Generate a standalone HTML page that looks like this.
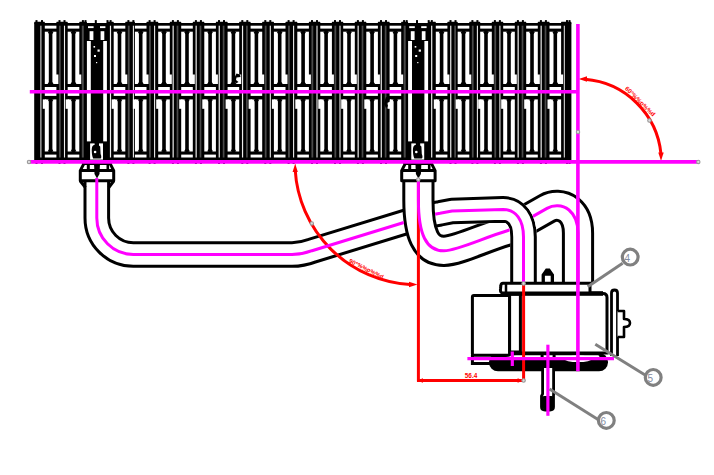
<!DOCTYPE html><html><head><meta charset="utf-8"><title>drawing</title><style>html,body{margin:0;padding:0;background:#fff;width:714px;height:475px;overflow:hidden}svg{display:block}</style></head><body><svg width="714" height="475" viewBox="0 0 714 475"><rect width="714" height="475" fill="#fff"/><rect x="34.2" y="23" width="537.2" height="137" fill="#000"/><rect x="34.2" y="21.8" width="10.65" height="2" rx="0.6" fill="#000"/><rect x="56.35" y="21.8" width="11.4" height="2" rx="0.6" fill="#000"/><rect x="79.25" y="21.8" width="7.65" height="2" rx="0.6" fill="#000"/><rect x="106.9" y="21.8" width="6.85" height="2" rx="0.6" fill="#000"/><rect x="125.25" y="21.8" width="9.7" height="2" rx="0.6" fill="#000"/><rect x="146.45" y="21.8" width="11.8" height="2" rx="0.6" fill="#000"/><rect x="169.75" y="21.8" width="11.5" height="2" rx="0.6" fill="#000"/><rect x="192.75" y="21.8" width="11.6" height="2" rx="0.6" fill="#000"/><rect x="215.85" y="21.8" width="11.8" height="2" rx="0.6" fill="#000"/><rect x="239.15" y="21.8" width="11.5" height="2" rx="0.6" fill="#000"/><rect x="262.15" y="21.8" width="11.8" height="2" rx="0.6" fill="#000"/><rect x="285.45" y="21.8" width="11.9" height="2" rx="0.6" fill="#000"/><rect x="308.85" y="21.8" width="11.5" height="2" rx="0.6" fill="#000"/><rect x="331.85" y="21.8" width="11.4" height="2" rx="0.6" fill="#000"/><rect x="354.75" y="21.8" width="11.6" height="2" rx="0.6" fill="#000"/><rect x="377.85" y="21.8" width="11.8" height="2" rx="0.6" fill="#000"/><rect x="401.15" y="21.8" width="6.95" height="2" rx="0.6" fill="#000"/><rect x="428.1" y="21.8" width="7.75" height="2" rx="0.6" fill="#000"/><rect x="447.35" y="21.8" width="10.4" height="2" rx="0.6" fill="#000"/><rect x="469.25" y="21.8" width="11" height="2" rx="0.6" fill="#000"/><rect x="491.75" y="21.8" width="11.5" height="2" rx="0.6" fill="#000"/><rect x="514.75" y="21.8" width="11.5" height="2" rx="0.6" fill="#000"/><rect x="537.75" y="21.8" width="11.8" height="2" rx="0.6" fill="#000"/><rect x="561.05" y="21.8" width="10.35" height="2" rx="0.6" fill="#000"/><rect x="44.8" y="25.7" width="11.6" height="2.9" fill="white"/><rect x="44.8" y="31.7" width="4" height="52.3" fill="white"/><rect x="52.4" y="31.7" width="4" height="52.3" fill="white"/><rect x="44.8" y="87" width="11.6" height="8.9" fill="white"/><rect x="44.8" y="99.4" width="4" height="52.1" fill="white"/><rect x="52.4" y="99.4" width="4" height="52.1" fill="white"/><rect x="44.8" y="154.6" width="11.6" height="2.9" fill="white"/><rect x="55.1" y="74.5" width="3.3" height="9.5" fill="white"/><rect x="42.8" y="99.4" width="3.3" height="9.4" fill="white"/><path d="M47.6,31.7 L53.6,31.7 L52.2,34 L49,34 Z" fill="#000"/><path d="M47.6,151.5 L53.6,151.5 L52.2,149.2 L49,149.2 Z" fill="#000"/><path d="M47.6,84 L53.6,84 L52.2,82 L49,82 Z" fill="#000"/><path d="M47.6,99.4 L53.6,99.4 L52.2,101.4 L49,101.4 Z" fill="#000"/><rect x="58.95" y="25.7" width="1.8" height="131.8" fill="#4a4a4a"/><rect x="63.95" y="25.7" width="1.1" height="131.8" fill="#ececec"/><rect x="67.7" y="25.7" width="11.6" height="2.9" fill="white"/><rect x="67.7" y="31.7" width="4" height="52.3" fill="white"/><rect x="75.3" y="31.7" width="4" height="52.3" fill="white"/><rect x="67.7" y="87" width="11.6" height="8.9" fill="white"/><rect x="67.7" y="99.4" width="4" height="52.1" fill="white"/><rect x="75.3" y="99.4" width="4" height="52.1" fill="white"/><rect x="67.7" y="154.6" width="11.6" height="2.9" fill="white"/><rect x="78" y="74.5" width="3.3" height="9.5" fill="white"/><rect x="65.7" y="99.4" width="3.3" height="9.4" fill="white"/><path d="M70.5,31.7 L76.5,31.7 L75.1,34 L71.9,34 Z" fill="#000"/><path d="M70.5,151.5 L76.5,151.5 L75.1,149.2 L71.9,149.2 Z" fill="#000"/><path d="M70.5,84 L76.5,84 L75.1,82 L71.9,82 Z" fill="#000"/><path d="M70.5,99.4 L76.5,99.4 L75.1,101.4 L71.9,101.4 Z" fill="#000"/><rect x="81.8" y="25.7" width="2" height="131.8" fill="#4a4a4a"/><rect x="86.9" y="41" width="3.9" height="100.4" fill="white"/><rect x="103.2" y="41" width="3.7" height="100.4" fill="white"/><rect x="88" y="26.2" width="5.6" height="1.9" fill="white"/><rect x="100" y="26.2" width="5.4" height="1.9" fill="white"/><rect x="89.6" y="31.2" width="3.8" height="8.8" fill="white"/><rect x="100.6" y="31.2" width="3.7" height="8.8" fill="white"/><rect x="90.1" y="143.4" width="12.9" height="16.2" fill="white"/><path d="M94,145 Q98.5,144 100.2,146.5 L100.6,154 Q102,157.5 100.5,158.6 L93.2,158.6 Q91.8,156 91.7,150 Q91.8,145.5 94,145 Z" fill="#000"/><rect x="94.6" y="141" width="4.4" height="5" fill="#000"/><circle cx="95.1" cy="152" r="1.3" fill="white"/><rect x="109.9" y="25.7" width="1.2" height="131.8" fill="#ececec"/><rect x="113.7" y="25.7" width="11.6" height="2.9" fill="white"/><rect x="113.7" y="31.7" width="4" height="52.3" fill="white"/><rect x="121.3" y="31.7" width="4" height="52.3" fill="white"/><rect x="113.7" y="87" width="11.6" height="8.9" fill="white"/><rect x="113.7" y="99.4" width="4" height="52.1" fill="white"/><rect x="121.3" y="99.4" width="4" height="52.1" fill="white"/><rect x="113.7" y="154.6" width="11.6" height="2.9" fill="white"/><rect x="124" y="74.5" width="3.3" height="9.5" fill="white"/><rect x="111.7" y="99.4" width="3.3" height="9.4" fill="white"/><path d="M116.5,31.7 L122.5,31.7 L121.1,34 L117.9,34 Z" fill="#000"/><path d="M116.5,151.5 L122.5,151.5 L121.1,149.2 L117.9,149.2 Z" fill="#000"/><path d="M116.5,84 L122.5,84 L121.1,82 L117.9,82 Z" fill="#000"/><path d="M116.5,99.4 L122.5,99.4 L121.1,101.4 L117.9,101.4 Z" fill="#000"/><rect x="127.85" y="25.7" width="1.8" height="131.8" fill="#4a4a4a"/><rect x="132.85" y="25.7" width="1.1" height="131.8" fill="#ececec"/><rect x="134.9" y="25.7" width="11.6" height="2.9" fill="white"/><rect x="134.9" y="31.7" width="4" height="52.3" fill="white"/><rect x="142.5" y="31.7" width="4" height="52.3" fill="white"/><rect x="134.9" y="87" width="11.6" height="8.9" fill="white"/><rect x="134.9" y="99.4" width="4" height="52.1" fill="white"/><rect x="142.5" y="99.4" width="4" height="52.1" fill="white"/><rect x="134.9" y="154.6" width="11.6" height="2.9" fill="white"/><rect x="145.2" y="74.5" width="3.3" height="9.5" fill="white"/><rect x="132.9" y="99.4" width="3.3" height="9.4" fill="white"/><path d="M137.7,31.7 L143.7,31.7 L142.3,34 L139.1,34 Z" fill="#000"/><path d="M137.7,151.5 L143.7,151.5 L142.3,149.2 L139.1,149.2 Z" fill="#000"/><path d="M137.7,84 L143.7,84 L142.3,82 L139.1,82 Z" fill="#000"/><path d="M137.7,99.4 L143.7,99.4 L142.3,101.4 L139.1,101.4 Z" fill="#000"/><rect x="149.05" y="25.7" width="1.8" height="131.8" fill="#4a4a4a"/><rect x="154.05" y="25.7" width="1.1" height="131.8" fill="#ececec"/><rect x="158.2" y="25.7" width="11.6" height="2.9" fill="white"/><rect x="158.2" y="31.7" width="4" height="52.3" fill="white"/><rect x="165.8" y="31.7" width="4" height="52.3" fill="white"/><rect x="158.2" y="87" width="11.6" height="8.9" fill="white"/><rect x="158.2" y="99.4" width="4" height="52.1" fill="white"/><rect x="165.8" y="99.4" width="4" height="52.1" fill="white"/><rect x="158.2" y="154.6" width="11.6" height="2.9" fill="white"/><rect x="168.5" y="74.5" width="3.3" height="9.5" fill="white"/><rect x="156.2" y="99.4" width="3.3" height="9.4" fill="white"/><path d="M161,31.7 L167,31.7 L165.6,34 L162.4,34 Z" fill="#000"/><path d="M161,151.5 L167,151.5 L165.6,149.2 L162.4,149.2 Z" fill="#000"/><path d="M161,84 L167,84 L165.6,82 L162.4,82 Z" fill="#000"/><path d="M161,99.4 L167,99.4 L165.6,101.4 L162.4,101.4 Z" fill="#000"/><rect x="172.55" y="25.7" width="1.2" height="131.8" fill="#ececec"/><rect x="176.65" y="25.7" width="1.7" height="131.8" fill="#4a4a4a"/><rect x="181.2" y="25.7" width="11.6" height="2.9" fill="white"/><rect x="181.2" y="31.7" width="4" height="52.3" fill="white"/><rect x="188.8" y="31.7" width="4" height="52.3" fill="white"/><rect x="181.2" y="87" width="11.6" height="8.9" fill="white"/><rect x="181.2" y="99.4" width="4" height="52.1" fill="white"/><rect x="188.8" y="99.4" width="4" height="52.1" fill="white"/><rect x="181.2" y="154.6" width="11.6" height="2.9" fill="white"/><rect x="191.5" y="74.5" width="3.3" height="9.5" fill="white"/><rect x="179.2" y="99.4" width="3.3" height="9.4" fill="white"/><path d="M184,31.7 L190,31.7 L188.6,34 L185.4,34 Z" fill="#000"/><path d="M184,151.5 L190,151.5 L188.6,149.2 L185.4,149.2 Z" fill="#000"/><path d="M184,84 L190,84 L188.6,82 L185.4,82 Z" fill="#000"/><path d="M184,99.4 L190,99.4 L188.6,101.4 L185.4,101.4 Z" fill="#000"/><rect x="195.55" y="25.7" width="1.2" height="131.8" fill="#ececec"/><rect x="199.65" y="25.7" width="1.7" height="131.8" fill="#4a4a4a"/><rect x="204.3" y="25.7" width="11.6" height="2.9" fill="white"/><rect x="204.3" y="31.7" width="4" height="52.3" fill="white"/><rect x="211.9" y="31.7" width="4" height="52.3" fill="white"/><rect x="204.3" y="87" width="11.6" height="8.9" fill="white"/><rect x="204.3" y="99.4" width="4" height="52.1" fill="white"/><rect x="211.9" y="99.4" width="4" height="52.1" fill="white"/><rect x="204.3" y="154.6" width="11.6" height="2.9" fill="white"/><rect x="214.6" y="74.5" width="3.3" height="9.5" fill="white"/><rect x="202.3" y="99.4" width="3.3" height="9.4" fill="white"/><path d="M207.1,31.7 L213.1,31.7 L211.7,34 L208.5,34 Z" fill="#000"/><path d="M207.1,151.5 L213.1,151.5 L211.7,149.2 L208.5,149.2 Z" fill="#000"/><path d="M207.1,84 L213.1,84 L211.7,82 L208.5,82 Z" fill="#000"/><path d="M207.1,99.4 L213.1,99.4 L211.7,101.4 L208.5,101.4 Z" fill="#000"/><rect x="218.65" y="25.7" width="1.2" height="131.8" fill="#ececec"/><rect x="222.75" y="25.7" width="1.7" height="131.8" fill="#4a4a4a"/><rect x="227.6" y="25.7" width="11.6" height="2.9" fill="white"/><rect x="227.6" y="31.7" width="4" height="52.3" fill="white"/><rect x="235.2" y="31.7" width="4" height="52.3" fill="white"/><rect x="227.6" y="87" width="11.6" height="8.9" fill="white"/><rect x="227.6" y="99.4" width="4" height="52.1" fill="white"/><rect x="235.2" y="99.4" width="4" height="52.1" fill="white"/><rect x="227.6" y="154.6" width="11.6" height="2.9" fill="white"/><rect x="237.9" y="74.5" width="3.3" height="9.5" fill="white"/><rect x="225.6" y="99.4" width="3.3" height="9.4" fill="white"/><path d="M230.4,31.7 L236.4,31.7 L235,34 L231.8,34 Z" fill="#000"/><path d="M230.4,151.5 L236.4,151.5 L235,149.2 L231.8,149.2 Z" fill="#000"/><path d="M230.4,84 L236.4,84 L235,82 L231.8,82 Z" fill="#000"/><path d="M230.4,99.4 L236.4,99.4 L235,101.4 L231.8,101.4 Z" fill="#000"/><rect x="241.95" y="25.7" width="1.2" height="131.8" fill="#ececec"/><rect x="246.05" y="25.7" width="1.7" height="131.8" fill="#4a4a4a"/><rect x="250.6" y="25.7" width="11.6" height="2.9" fill="white"/><rect x="250.6" y="31.7" width="4" height="52.3" fill="white"/><rect x="258.2" y="31.7" width="4" height="52.3" fill="white"/><rect x="250.6" y="87" width="11.6" height="8.9" fill="white"/><rect x="250.6" y="99.4" width="4" height="52.1" fill="white"/><rect x="258.2" y="99.4" width="4" height="52.1" fill="white"/><rect x="250.6" y="154.6" width="11.6" height="2.9" fill="white"/><rect x="260.9" y="74.5" width="3.3" height="9.5" fill="white"/><rect x="248.6" y="99.4" width="3.3" height="9.4" fill="white"/><path d="M253.4,31.7 L259.4,31.7 L258,34 L254.8,34 Z" fill="#000"/><path d="M253.4,151.5 L259.4,151.5 L258,149.2 L254.8,149.2 Z" fill="#000"/><path d="M253.4,84 L259.4,84 L258,82 L254.8,82 Z" fill="#000"/><path d="M253.4,99.4 L259.4,99.4 L258,101.4 L254.8,101.4 Z" fill="#000"/><rect x="264.75" y="25.7" width="1.8" height="131.8" fill="#4a4a4a"/><rect x="269.75" y="25.7" width="1.1" height="131.8" fill="#ececec"/><rect x="273.9" y="25.7" width="11.6" height="2.9" fill="white"/><rect x="273.9" y="31.7" width="4" height="52.3" fill="white"/><rect x="281.5" y="31.7" width="4" height="52.3" fill="white"/><rect x="273.9" y="87" width="11.6" height="8.9" fill="white"/><rect x="273.9" y="99.4" width="4" height="52.1" fill="white"/><rect x="281.5" y="99.4" width="4" height="52.1" fill="white"/><rect x="273.9" y="154.6" width="11.6" height="2.9" fill="white"/><rect x="284.2" y="74.5" width="3.3" height="9.5" fill="white"/><rect x="271.9" y="99.4" width="3.3" height="9.4" fill="white"/><path d="M276.7,31.7 L282.7,31.7 L281.3,34 L278.1,34 Z" fill="#000"/><path d="M276.7,151.5 L282.7,151.5 L281.3,149.2 L278.1,149.2 Z" fill="#000"/><path d="M276.7,84 L282.7,84 L281.3,82 L278.1,82 Z" fill="#000"/><path d="M276.7,99.4 L282.7,99.4 L281.3,101.4 L278.1,101.4 Z" fill="#000"/><rect x="288.05" y="25.7" width="1.8" height="131.8" fill="#4a4a4a"/><rect x="293.05" y="25.7" width="1.1" height="131.8" fill="#ececec"/><rect x="297.3" y="25.7" width="11.6" height="2.9" fill="white"/><rect x="297.3" y="31.7" width="4" height="52.3" fill="white"/><rect x="304.9" y="31.7" width="4" height="52.3" fill="white"/><rect x="297.3" y="87" width="11.6" height="8.9" fill="white"/><rect x="297.3" y="99.4" width="4" height="52.1" fill="white"/><rect x="304.9" y="99.4" width="4" height="52.1" fill="white"/><rect x="297.3" y="154.6" width="11.6" height="2.9" fill="white"/><rect x="307.6" y="74.5" width="3.3" height="9.5" fill="white"/><rect x="295.3" y="99.4" width="3.3" height="9.4" fill="white"/><path d="M300.1,31.7 L306.1,31.7 L304.7,34 L301.5,34 Z" fill="#000"/><path d="M300.1,151.5 L306.1,151.5 L304.7,149.2 L301.5,149.2 Z" fill="#000"/><path d="M300.1,84 L306.1,84 L304.7,82 L301.5,82 Z" fill="#000"/><path d="M300.1,99.4 L306.1,99.4 L304.7,101.4 L301.5,101.4 Z" fill="#000"/><rect x="311.45" y="25.7" width="1.8" height="131.8" fill="#4a4a4a"/><rect x="316.45" y="25.7" width="1.1" height="131.8" fill="#ececec"/><rect x="320.3" y="25.7" width="11.6" height="2.9" fill="white"/><rect x="320.3" y="31.7" width="4" height="52.3" fill="white"/><rect x="327.9" y="31.7" width="4" height="52.3" fill="white"/><rect x="320.3" y="87" width="11.6" height="8.9" fill="white"/><rect x="320.3" y="99.4" width="4" height="52.1" fill="white"/><rect x="327.9" y="99.4" width="4" height="52.1" fill="white"/><rect x="320.3" y="154.6" width="11.6" height="2.9" fill="white"/><rect x="330.6" y="74.5" width="3.3" height="9.5" fill="white"/><rect x="318.3" y="99.4" width="3.3" height="9.4" fill="white"/><path d="M323.1,31.7 L329.1,31.7 L327.7,34 L324.5,34 Z" fill="#000"/><path d="M323.1,151.5 L329.1,151.5 L327.7,149.2 L324.5,149.2 Z" fill="#000"/><path d="M323.1,84 L329.1,84 L327.7,82 L324.5,82 Z" fill="#000"/><path d="M323.1,99.4 L329.1,99.4 L327.7,101.4 L324.5,101.4 Z" fill="#000"/><rect x="334.45" y="25.7" width="1.8" height="131.8" fill="#4a4a4a"/><rect x="339.45" y="25.7" width="1.1" height="131.8" fill="#ececec"/><rect x="343.2" y="25.7" width="11.6" height="2.9" fill="white"/><rect x="343.2" y="31.7" width="4" height="52.3" fill="white"/><rect x="350.8" y="31.7" width="4" height="52.3" fill="white"/><rect x="343.2" y="87" width="11.6" height="8.9" fill="white"/><rect x="343.2" y="99.4" width="4" height="52.1" fill="white"/><rect x="350.8" y="99.4" width="4" height="52.1" fill="white"/><rect x="343.2" y="154.6" width="11.6" height="2.9" fill="white"/><rect x="353.5" y="74.5" width="3.3" height="9.5" fill="white"/><rect x="341.2" y="99.4" width="3.3" height="9.4" fill="white"/><path d="M346,31.7 L352,31.7 L350.6,34 L347.4,34 Z" fill="#000"/><path d="M346,151.5 L352,151.5 L350.6,149.2 L347.4,149.2 Z" fill="#000"/><path d="M346,84 L352,84 L350.6,82 L347.4,82 Z" fill="#000"/><path d="M346,99.4 L352,99.4 L350.6,101.4 L347.4,101.4 Z" fill="#000"/><rect x="357.55" y="25.7" width="1.2" height="131.8" fill="#ececec"/><rect x="361.65" y="25.7" width="1.7" height="131.8" fill="#4a4a4a"/><rect x="366.3" y="25.7" width="11.6" height="2.9" fill="white"/><rect x="366.3" y="31.7" width="4" height="52.3" fill="white"/><rect x="373.9" y="31.7" width="4" height="52.3" fill="white"/><rect x="366.3" y="87" width="11.6" height="8.9" fill="white"/><rect x="366.3" y="99.4" width="4" height="52.1" fill="white"/><rect x="373.9" y="99.4" width="4" height="52.1" fill="white"/><rect x="366.3" y="154.6" width="11.6" height="2.9" fill="white"/><rect x="376.6" y="74.5" width="3.3" height="9.5" fill="white"/><rect x="364.3" y="99.4" width="3.3" height="9.4" fill="white"/><path d="M369.1,31.7 L375.1,31.7 L373.7,34 L370.5,34 Z" fill="#000"/><path d="M369.1,151.5 L375.1,151.5 L373.7,149.2 L370.5,149.2 Z" fill="#000"/><path d="M369.1,84 L375.1,84 L373.7,82 L370.5,82 Z" fill="#000"/><path d="M369.1,99.4 L375.1,99.4 L373.7,101.4 L370.5,101.4 Z" fill="#000"/><rect x="380.65" y="25.7" width="1.2" height="131.8" fill="#ececec"/><rect x="384.75" y="25.7" width="1.7" height="131.8" fill="#4a4a4a"/><rect x="389.6" y="25.7" width="11.6" height="2.9" fill="white"/><rect x="389.6" y="31.7" width="4" height="52.3" fill="white"/><rect x="397.2" y="31.7" width="4" height="52.3" fill="white"/><rect x="389.6" y="87" width="11.6" height="8.9" fill="white"/><rect x="389.6" y="99.4" width="4" height="52.1" fill="white"/><rect x="397.2" y="99.4" width="4" height="52.1" fill="white"/><rect x="389.6" y="154.6" width="11.6" height="2.9" fill="white"/><rect x="399.9" y="74.5" width="3.3" height="9.5" fill="white"/><rect x="387.6" y="99.4" width="3.3" height="9.4" fill="white"/><path d="M392.4,31.7 L398.4,31.7 L397,34 L393.8,34 Z" fill="#000"/><path d="M392.4,151.5 L398.4,151.5 L397,149.2 L393.8,149.2 Z" fill="#000"/><path d="M392.4,84 L398.4,84 L397,82 L393.8,82 Z" fill="#000"/><path d="M392.4,99.4 L398.4,99.4 L397,101.4 L393.8,101.4 Z" fill="#000"/><rect x="403.7" y="25.7" width="2" height="131.8" fill="#4a4a4a"/><rect x="408.1" y="41" width="3.9" height="100.4" fill="white"/><rect x="424.4" y="41" width="3.7" height="100.4" fill="white"/><rect x="409.2" y="26.2" width="5.6" height="1.9" fill="white"/><rect x="421.2" y="26.2" width="5.4" height="1.9" fill="white"/><rect x="410.8" y="31.2" width="3.8" height="8.8" fill="white"/><rect x="421.8" y="31.2" width="3.7" height="8.8" fill="white"/><rect x="411.3" y="143.4" width="12.9" height="16.2" fill="white"/><path d="M415.2,145 Q419.7,144 421.4,146.5 L421.8,154 Q423.2,157.5 421.7,158.6 L414.4,158.6 Q413,156 412.9,150 Q413,145.5 415.2,145 Z" fill="#000"/><rect x="415.8" y="141" width="4.4" height="5" fill="#000"/><circle cx="416.3" cy="152" r="1.3" fill="white"/><rect x="431.1" y="25.7" width="1.2" height="131.8" fill="#ececec"/><rect x="435.8" y="25.7" width="11.6" height="2.9" fill="white"/><rect x="435.8" y="31.7" width="4" height="52.3" fill="white"/><rect x="443.4" y="31.7" width="4" height="52.3" fill="white"/><rect x="435.8" y="87" width="11.6" height="8.9" fill="white"/><rect x="435.8" y="99.4" width="4" height="52.1" fill="white"/><rect x="443.4" y="99.4" width="4" height="52.1" fill="white"/><rect x="435.8" y="154.6" width="11.6" height="2.9" fill="white"/><rect x="446.1" y="74.5" width="3.3" height="9.5" fill="white"/><rect x="433.8" y="99.4" width="3.3" height="9.4" fill="white"/><path d="M438.6,31.7 L444.6,31.7 L443.2,34 L440,34 Z" fill="#000"/><path d="M438.6,151.5 L444.6,151.5 L443.2,149.2 L440,149.2 Z" fill="#000"/><path d="M438.6,84 L444.6,84 L443.2,82 L440,82 Z" fill="#000"/><path d="M438.6,99.4 L444.6,99.4 L443.2,101.4 L440,101.4 Z" fill="#000"/><rect x="450.15" y="25.7" width="1.2" height="131.8" fill="#ececec"/><rect x="454.25" y="25.7" width="1.7" height="131.8" fill="#4a4a4a"/><rect x="457.7" y="25.7" width="11.6" height="2.9" fill="white"/><rect x="457.7" y="31.7" width="4" height="52.3" fill="white"/><rect x="465.3" y="31.7" width="4" height="52.3" fill="white"/><rect x="457.7" y="87" width="11.6" height="8.9" fill="white"/><rect x="457.7" y="99.4" width="4" height="52.1" fill="white"/><rect x="465.3" y="99.4" width="4" height="52.1" fill="white"/><rect x="457.7" y="154.6" width="11.6" height="2.9" fill="white"/><rect x="468" y="74.5" width="3.3" height="9.5" fill="white"/><rect x="455.7" y="99.4" width="3.3" height="9.4" fill="white"/><path d="M460.5,31.7 L466.5,31.7 L465.1,34 L461.9,34 Z" fill="#000"/><path d="M460.5,151.5 L466.5,151.5 L465.1,149.2 L461.9,149.2 Z" fill="#000"/><path d="M460.5,84 L466.5,84 L465.1,82 L461.9,82 Z" fill="#000"/><path d="M460.5,99.4 L466.5,99.4 L465.1,101.4 L461.9,101.4 Z" fill="#000"/><rect x="471.85" y="25.7" width="1.8" height="131.8" fill="#4a4a4a"/><rect x="476.85" y="25.7" width="1.1" height="131.8" fill="#ececec"/><rect x="480.2" y="25.7" width="11.6" height="2.9" fill="white"/><rect x="480.2" y="31.7" width="4" height="52.3" fill="white"/><rect x="487.8" y="31.7" width="4" height="52.3" fill="white"/><rect x="480.2" y="87" width="11.6" height="8.9" fill="white"/><rect x="480.2" y="99.4" width="4" height="52.1" fill="white"/><rect x="487.8" y="99.4" width="4" height="52.1" fill="white"/><rect x="480.2" y="154.6" width="11.6" height="2.9" fill="white"/><rect x="490.5" y="74.5" width="3.3" height="9.5" fill="white"/><rect x="478.2" y="99.4" width="3.3" height="9.4" fill="white"/><path d="M483,31.7 L489,31.7 L487.6,34 L484.4,34 Z" fill="#000"/><path d="M483,151.5 L489,151.5 L487.6,149.2 L484.4,149.2 Z" fill="#000"/><path d="M483,84 L489,84 L487.6,82 L484.4,82 Z" fill="#000"/><path d="M483,99.4 L489,99.4 L487.6,101.4 L484.4,101.4 Z" fill="#000"/><rect x="494.35" y="25.7" width="1.8" height="131.8" fill="#4a4a4a"/><rect x="499.35" y="25.7" width="1.1" height="131.8" fill="#ececec"/><rect x="503.2" y="25.7" width="11.6" height="2.9" fill="white"/><rect x="503.2" y="31.7" width="4" height="52.3" fill="white"/><rect x="510.8" y="31.7" width="4" height="52.3" fill="white"/><rect x="503.2" y="87" width="11.6" height="8.9" fill="white"/><rect x="503.2" y="99.4" width="4" height="52.1" fill="white"/><rect x="510.8" y="99.4" width="4" height="52.1" fill="white"/><rect x="503.2" y="154.6" width="11.6" height="2.9" fill="white"/><rect x="513.5" y="74.5" width="3.3" height="9.5" fill="white"/><rect x="501.2" y="99.4" width="3.3" height="9.4" fill="white"/><path d="M506,31.7 L512,31.7 L510.6,34 L507.4,34 Z" fill="#000"/><path d="M506,151.5 L512,151.5 L510.6,149.2 L507.4,149.2 Z" fill="#000"/><path d="M506,84 L512,84 L510.6,82 L507.4,82 Z" fill="#000"/><path d="M506,99.4 L512,99.4 L510.6,101.4 L507.4,101.4 Z" fill="#000"/><rect x="517.55" y="25.7" width="1.2" height="131.8" fill="#ececec"/><rect x="521.65" y="25.7" width="1.7" height="131.8" fill="#4a4a4a"/><rect x="526.2" y="25.7" width="11.6" height="2.9" fill="white"/><rect x="526.2" y="31.7" width="4" height="52.3" fill="white"/><rect x="533.8" y="31.7" width="4" height="52.3" fill="white"/><rect x="526.2" y="87" width="11.6" height="8.9" fill="white"/><rect x="526.2" y="99.4" width="4" height="52.1" fill="white"/><rect x="533.8" y="99.4" width="4" height="52.1" fill="white"/><rect x="526.2" y="154.6" width="11.6" height="2.9" fill="white"/><rect x="536.5" y="74.5" width="3.3" height="9.5" fill="white"/><rect x="524.2" y="99.4" width="3.3" height="9.4" fill="white"/><path d="M529,31.7 L535,31.7 L533.6,34 L530.4,34 Z" fill="#000"/><path d="M529,151.5 L535,151.5 L533.6,149.2 L530.4,149.2 Z" fill="#000"/><path d="M529,84 L535,84 L533.6,82 L530.4,82 Z" fill="#000"/><path d="M529,99.4 L535,99.4 L533.6,101.4 L530.4,101.4 Z" fill="#000"/><rect x="540.55" y="25.7" width="1.2" height="131.8" fill="#ececec"/><rect x="544.65" y="25.7" width="1.7" height="131.8" fill="#4a4a4a"/><rect x="549.5" y="25.7" width="11.6" height="2.9" fill="white"/><rect x="549.5" y="31.7" width="4" height="52.3" fill="white"/><rect x="557.1" y="31.7" width="4" height="52.3" fill="white"/><rect x="549.5" y="87" width="11.6" height="8.9" fill="white"/><rect x="549.5" y="99.4" width="4" height="52.1" fill="white"/><rect x="557.1" y="99.4" width="4" height="52.1" fill="white"/><rect x="549.5" y="154.6" width="11.6" height="2.9" fill="white"/><rect x="559.8" y="74.5" width="3.3" height="9.5" fill="white"/><rect x="547.5" y="99.4" width="3.3" height="9.4" fill="white"/><path d="M552.3,31.7 L558.3,31.7 L556.9,34 L553.7,34 Z" fill="#000"/><path d="M552.3,151.5 L558.3,151.5 L556.9,149.2 L553.7,149.2 Z" fill="#000"/><path d="M552.3,84 L558.3,84 L556.9,82 L553.7,82 Z" fill="#000"/><path d="M552.3,99.4 L558.3,99.4 L556.9,101.4 L553.7,101.4 Z" fill="#000"/><rect x="40.4" y="25.7" width="1" height="131.8" fill="#ececec"/><rect x="563.8" y="25.7" width="1" height="131.8" fill="#ececec"/><rect x="58.5" y="20.1" width="2" height="3" fill="#000"/><rect x="58.5" y="162" width="2" height="2" fill="#000"/><rect x="63.5" y="20.1" width="2" height="3" fill="#000"/><rect x="63.5" y="162" width="2" height="2" fill="#000"/><rect x="81.9" y="20.1" width="2" height="3" fill="#000"/><rect x="81.9" y="162" width="2" height="2" fill="#000"/><rect x="84.5" y="20.1" width="2" height="3" fill="#000"/><rect x="84.5" y="162" width="2" height="2" fill="#000"/><rect x="94.8" y="20.1" width="2" height="3" fill="#000"/><rect x="94.8" y="162" width="2" height="2" fill="#000"/><rect x="106.5" y="20.1" width="2" height="3" fill="#000"/><rect x="106.5" y="162" width="2" height="2" fill="#000"/><rect x="109.6" y="20.1" width="2" height="3" fill="#000"/><rect x="109.6" y="162" width="2" height="2" fill="#000"/><rect x="127.4" y="20.1" width="2" height="3" fill="#000"/><rect x="127.4" y="162" width="2" height="2" fill="#000"/><rect x="132.4" y="20.1" width="2" height="3" fill="#000"/><rect x="132.4" y="162" width="2" height="2" fill="#000"/><rect x="148.6" y="20.1" width="2" height="3" fill="#000"/><rect x="148.6" y="162" width="2" height="2" fill="#000"/><rect x="153.6" y="20.1" width="2" height="3" fill="#000"/><rect x="153.6" y="162" width="2" height="2" fill="#000"/><rect x="171.9" y="20.1" width="2" height="3" fill="#000"/><rect x="171.9" y="162" width="2" height="2" fill="#000"/><rect x="176.9" y="20.1" width="2" height="3" fill="#000"/><rect x="176.9" y="162" width="2" height="2" fill="#000"/><rect x="194.9" y="20.1" width="2" height="3" fill="#000"/><rect x="194.9" y="162" width="2" height="2" fill="#000"/><rect x="199.9" y="20.1" width="2" height="3" fill="#000"/><rect x="199.9" y="162" width="2" height="2" fill="#000"/><rect x="218" y="20.1" width="2" height="3" fill="#000"/><rect x="218" y="162" width="2" height="2" fill="#000"/><rect x="223" y="20.1" width="2" height="3" fill="#000"/><rect x="223" y="162" width="2" height="2" fill="#000"/><rect x="241.3" y="20.1" width="2" height="3" fill="#000"/><rect x="241.3" y="162" width="2" height="2" fill="#000"/><rect x="246.3" y="20.1" width="2" height="3" fill="#000"/><rect x="246.3" y="162" width="2" height="2" fill="#000"/><rect x="264.3" y="20.1" width="2" height="3" fill="#000"/><rect x="264.3" y="162" width="2" height="2" fill="#000"/><rect x="269.3" y="20.1" width="2" height="3" fill="#000"/><rect x="269.3" y="162" width="2" height="2" fill="#000"/><rect x="287.6" y="20.1" width="2" height="3" fill="#000"/><rect x="287.6" y="162" width="2" height="2" fill="#000"/><rect x="292.6" y="20.1" width="2" height="3" fill="#000"/><rect x="292.6" y="162" width="2" height="2" fill="#000"/><rect x="311" y="20.1" width="2" height="3" fill="#000"/><rect x="311" y="162" width="2" height="2" fill="#000"/><rect x="316" y="20.1" width="2" height="3" fill="#000"/><rect x="316" y="162" width="2" height="2" fill="#000"/><rect x="334" y="20.1" width="2" height="3" fill="#000"/><rect x="334" y="162" width="2" height="2" fill="#000"/><rect x="339" y="20.1" width="2" height="3" fill="#000"/><rect x="339" y="162" width="2" height="2" fill="#000"/><rect x="356.9" y="20.1" width="2" height="3" fill="#000"/><rect x="356.9" y="162" width="2" height="2" fill="#000"/><rect x="361.9" y="20.1" width="2" height="3" fill="#000"/><rect x="361.9" y="162" width="2" height="2" fill="#000"/><rect x="380" y="20.1" width="2" height="3" fill="#000"/><rect x="380" y="162" width="2" height="2" fill="#000"/><rect x="385" y="20.1" width="2" height="3" fill="#000"/><rect x="385" y="162" width="2" height="2" fill="#000"/><rect x="403.1" y="20.1" width="2" height="3" fill="#000"/><rect x="403.1" y="162" width="2" height="2" fill="#000"/><rect x="405.7" y="20.1" width="2" height="3" fill="#000"/><rect x="405.7" y="162" width="2" height="2" fill="#000"/><rect x="416" y="20.1" width="2" height="3" fill="#000"/><rect x="416" y="162" width="2" height="2" fill="#000"/><rect x="427.7" y="20.1" width="2" height="3" fill="#000"/><rect x="427.7" y="162" width="2" height="2" fill="#000"/><rect x="430.8" y="20.1" width="2" height="3" fill="#000"/><rect x="430.8" y="162" width="2" height="2" fill="#000"/><rect x="449.5" y="20.1" width="2" height="3" fill="#000"/><rect x="449.5" y="162" width="2" height="2" fill="#000"/><rect x="454.5" y="20.1" width="2" height="3" fill="#000"/><rect x="454.5" y="162" width="2" height="2" fill="#000"/><rect x="471.4" y="20.1" width="2" height="3" fill="#000"/><rect x="471.4" y="162" width="2" height="2" fill="#000"/><rect x="476.4" y="20.1" width="2" height="3" fill="#000"/><rect x="476.4" y="162" width="2" height="2" fill="#000"/><rect x="493.9" y="20.1" width="2" height="3" fill="#000"/><rect x="493.9" y="162" width="2" height="2" fill="#000"/><rect x="498.9" y="20.1" width="2" height="3" fill="#000"/><rect x="498.9" y="162" width="2" height="2" fill="#000"/><rect x="516.9" y="20.1" width="2" height="3" fill="#000"/><rect x="516.9" y="162" width="2" height="2" fill="#000"/><rect x="521.9" y="20.1" width="2" height="3" fill="#000"/><rect x="521.9" y="162" width="2" height="2" fill="#000"/><rect x="539.9" y="20.1" width="2" height="3" fill="#000"/><rect x="539.9" y="162" width="2" height="2" fill="#000"/><rect x="544.9" y="20.1" width="2" height="3" fill="#000"/><rect x="544.9" y="162" width="2" height="2" fill="#000"/><rect x="35.5" y="20.1" width="2" height="3" fill="#000"/><rect x="35.5" y="162" width="2" height="2" fill="#000"/><rect x="41" y="20.1" width="2" height="3" fill="#000"/><rect x="41" y="162" width="2" height="2" fill="#000"/><rect x="566" y="20.1" width="2" height="3" fill="#000"/><rect x="566" y="162" width="2" height="2" fill="#000"/><rect x="568.5" y="20.1" width="2" height="3" fill="#000"/><rect x="568.5" y="162" width="2" height="2" fill="#000"/><path d="M236.5,73.5 L240,74.5 L240.5,77 L236.5,77.5 L236,80 L238.5,82 L236,83.5 L234,80.5 L235,76.5 Z" fill="#000"/><path d="M386,97 L390,98 L389.5,102 L386.5,103 L388,106 L386,108 L384,104 L385,100 Z" fill="#000"/><rect x="93.5" y="46" width="1.6" height="1.6" fill="white"/><rect x="97.5" y="49.5" width="2.2" height="2.2" fill="white"/><rect x="94" y="55" width="2" height="2" fill="white"/><rect x="96" y="62" width="1.2" height="1.2" fill="white"/><rect x="414.7" y="46" width="1.6" height="1.6" fill="white"/><rect x="418.7" y="49.5" width="2.2" height="2.2" fill="white"/><rect x="415.2" y="55" width="2" height="2" fill="white"/><rect x="417.2" y="62" width="1.2" height="1.2" fill="white"/><defs><mask id="mB2" maskUnits="userSpaceOnUse" x="0" y="0" width="714" height="475"><rect width="714" height="475" fill="#fff"/><path d="M446,212.1 L452,211 L503,209.4 C516,209.4 523.5,220 523.5,237 L523.5,283" fill="none" stroke="#000" stroke-width="26.6" stroke-linejoin="round"/></mask><mask id="mAnotB2" maskUnits="userSpaceOnUse" x="0" y="0" width="714" height="475"><rect width="714" height="475" fill="#fff"/><path d="M418.4,178 L418.4,200 C418.4,234 426,251 444,250.8 C458,250.5 484,237.5 508,230.5 L547,208.4 C553,205 562,204.5 569,210 C575,215 578,222 578,233 L578,283" fill="none" stroke="#000" stroke-width="32.2" stroke-linejoin="round"/><path d="M446,212.1 L452,211 L503,209.4 C516,209.4 523.5,220 523.5,237 L523.5,283" fill="none" stroke="#fff" stroke-width="26.6" stroke-linejoin="round"/></mask></defs><path d="M96.8,178 L96.8,218 A36.5,36.5 0 0 0 133.3,254.5 L292,254.5 Q302,254.5 312,250.7 L412,220 Q424,216 440,213.3 L452,211 L503,209.4 C516,209.4 523.5,220 523.5,237 L523.5,283" fill="none" stroke="#000" stroke-width="26.6" stroke-linejoin="round"/><path d="M96.8,178 L96.8,218 A36.5,36.5 0 0 0 133.3,254.5 L292,254.5 Q302,254.5 312,250.7 L412,220 Q424,216 440,213.3 L452,211 L503,209.4 C516,209.4 523.5,220 523.5,237 L523.5,283" fill="none" stroke="#fff" stroke-width="20.6" stroke-linejoin="round"/><g mask="url(#mB2)"><path d="M418.4,178 L418.4,200 C418.4,234 426,251 444,250.8 C458,250.5 484,237.5 508,230.5 L547,208.4 C553,205 562,204.5 569,210 C575,215 578,222 578,233 L578,283" fill="none" stroke="#000" stroke-width="32.2" stroke-linejoin="round"/><path d="M418.4,178 L418.4,200 C418.4,234 426,251 444,250.8 C458,250.5 484,237.5 508,230.5 L547,208.4 C553,205 562,204.5 569,210 C575,215 578,222 578,233 L578,283" fill="none" stroke="#fff" stroke-width="26.2" stroke-linejoin="round"/></g><path d="M84,163.4 L110,163.4 L113.7,170.6 L113.7,180.8 L80.3,180.8 L80.3,170.6 Z" fill="#fff" stroke="#000" stroke-width="3" stroke-linejoin="round"/><line x1="80.3" y1="170.6" x2="113.7" y2="170.6" stroke="#000" stroke-width="3"/><rect x="86.8" y="163" width="3" height="7" fill="#000"/><rect x="106.5" y="163" width="2.6" height="7" fill="#000"/><path d="M94,163 L100,163 L99.5,174 L97,178.5 L94.5,174 Z" fill="#000"/><path d="M405.4,163.4 L431.4,163.4 L435.1,170.6 L435.1,180.8 L401.7,180.8 L401.7,170.6 Z" fill="#fff" stroke="#000" stroke-width="3" stroke-linejoin="round"/><line x1="401.7" y1="170.6" x2="435.1" y2="170.6" stroke="#000" stroke-width="3"/><rect x="408.2" y="163" width="3" height="7" fill="#000"/><rect x="427.9" y="163" width="2.6" height="7" fill="#000"/><path d="M415.4,163 L421.4,163 L420.9,174 L418.4,178.5 L415.9,174 Z" fill="#000"/><path d="M80.3,181 L85.4,187.5 M113.7,181 L108.8,187.5" stroke="#000" stroke-width="3" fill="none"/><rect x="489" y="352.8" width="119" height="18.5" rx="9" fill="#000"/><path d="M505,357.6 Q508,355.3 516,355.3 L598,355.3 Q601,356 598,357.8 Z" fill="#fff"/><ellipse cx="578" cy="358.8" rx="14" ry="3.3" fill="#fff"/><rect x="540.6" y="355" width="3" height="4" fill="#000"/><rect x="552.6" y="355" width="3" height="4" fill="#000"/><rect x="472.4" y="295.6" width="37.2" height="59.6" rx="1.5" fill="#fff" stroke="#000" stroke-width="3"/><path d="M472.4,355 L472.4,363.6 L492,363.6" fill="none" stroke="#000" stroke-width="3"/><rect x="509.6" y="294" width="11" height="58" fill="#fff" stroke="#000" stroke-width="3"/><path d="M520.4,293.5 L603,293.5 Q607,293.5 607,297.5 L607,353 L520.4,353 Z" fill="#fff" stroke="#000" stroke-width="3"/><rect x="508" y="291.2" width="95" height="4.6" fill="#000"/><path d="M503,283.2 L590,283.2 L590,293 L503,293 Q500,293 500.5,289 L500.8,286 Q501,283.2 503,283.2 Z" fill="#fff" stroke="#000" stroke-width="3"/><line x1="506" y1="284" x2="506" y2="292" stroke="#000" stroke-width="2.5"/><path d="M541.6,282.5 L541.6,274.6 L545.8,268.6 L549.8,268.6 L554,274.6 L554,282.5 L550.7,282.5 L550.7,275.8 L544.9,275.8 L544.9,282.5 Z" fill="#000"/><path d="M611.5,356 L611.5,293 Q611.5,290 614.5,290 Q617.5,290 617.5,293 L617.5,356" fill="#fff" stroke="#000" stroke-width="2.8"/><path d="M617.5,311 L624,311 L624,319 Q630,319 630,323 Q630,327 624,327 L624,337 L617.5,337" fill="#fff" stroke="#000" stroke-width="2.6" stroke-linejoin="round"/><path d="M542.6,368 L542.6,394 L541.5,396 L541.5,407 Q541.5,410 545,410 L550,410 Q553.5,410 553.5,407 L553.5,396 L553.6,394 L553.6,368" fill="#fff" stroke="#000" stroke-width="2.8"/><rect x="542" y="396" width="11.5" height="13" rx="2" fill="#000"/><line x1="418.4" y1="181" x2="418.4" y2="381.5" stroke="#f00" stroke-width="3"/><line x1="523.6" y1="283.5" x2="523.6" y2="381.5" stroke="#f00" stroke-width="3"/><line x1="417" y1="380.5" x2="523.6" y2="380.5" stroke="#f00" stroke-width="2.8"/><path d="M417,380.5 L423,378.3 L423,382.7 Z M523.6,380.5 L517.6,378.3 L517.6,382.7 Z" fill="#f00"/><text x="464.8" y="377.8" font-family="Liberation Sans, sans-serif" font-size="6.4" font-weight="bold" fill="#f00">56.4</text><path d="M295.2,170 A122,122 0 0 0 410,284.5" fill="none" stroke="#f00" stroke-width="3"/><path d="M295.2,163.6 L292.6,172 L297.8,172 Z" fill="#f00"/><path d="M417.5,284.5 L409,281.8 L409,287.2 Z" fill="#f00"/><path d="M585,79.3 A83,83 0 0 1 661,154" fill="none" stroke="#f00" stroke-width="3"/><path d="M578.7,79 L587,76.3 L587,81.7 Z" fill="#f00"/><path d="M661,161 L658.3,152.5 L663.7,152.5 Z" fill="#f00"/><text font-family="Liberation Sans, sans-serif" font-size="6" font-weight="bold" fill="#f00" transform="translate(348.6,262.2) rotate(26.6)">90°%%p%%d</text><text font-family="Liberation Sans, sans-serif" font-size="6.3" font-weight="bold" fill="#f00" transform="translate(624.4,89) rotate(44.5)">60°%%p%%d</text><g mask="url(#mAnotB2)"><path d="M96.8,178 L96.8,218 A36.5,36.5 0 0 0 133.3,254.5 L292,254.5 Q302,254.5 312,250.7 L412,220 Q424,216 440,213.3 L452,211 L503,209.4 C516,209.4 523.5,220 523.5,237 L523.5,283" fill="none" stroke="#f0f" stroke-width="3"/></g><g mask="url(#mB2)"><path d="M418.4,178 L418.4,200 C418.4,234 426,251 444,250.8 C458,250.5 484,237.5 508,230.5 L547,208.4 C553,205 562,204.5 569,210 C575,215 578,222 578,233 L578,283" fill="none" stroke="#f0f" stroke-width="3"/></g><line x1="29.8" y1="91.8" x2="577.9" y2="91.8" stroke="#f0f" stroke-width="3.6"/><line x1="29" y1="161.9" x2="698.5" y2="161.9" stroke="#f0f" stroke-width="3.6"/><line x1="577.9" y1="23.9" x2="577.9" y2="371.3" stroke="#f0f" stroke-width="3.6"/><line x1="467.4" y1="358.7" x2="614" y2="358.7" stroke="#f0f" stroke-width="3.2"/><line x1="512.3" y1="351.5" x2="512.3" y2="366" stroke="#f0f" stroke-width="3.2"/><line x1="547.9" y1="344.7" x2="547.9" y2="415.8" stroke="#f0f" stroke-width="3.2"/><circle cx="29" cy="162" r="1.7" fill="#ddd" stroke="#999" stroke-width="1.1"/><circle cx="698.3" cy="161.9" r="1.7" fill="#ddd" stroke="#999" stroke-width="1.1"/><circle cx="311.8" cy="223.4" r="1.7" fill="#ddd" stroke="#999" stroke-width="1.1"/><circle cx="649.4" cy="120.5" r="1.7" fill="#ddd" stroke="#999" stroke-width="1.1"/><circle cx="578" cy="132" r="1.7" fill="#ddd" stroke="#999" stroke-width="1.1"/><circle cx="523.6" cy="380.5" r="1.7" fill="#ddd" stroke="#999" stroke-width="1.1"/><circle cx="418.3" cy="179.5" r="1.7" fill="#ddd" stroke="#999" stroke-width="1.1"/><circle cx="523.6" cy="283.5" r="1.7" fill="#ddd" stroke="#999" stroke-width="1.1"/><line x1="587.7" y1="286.8" x2="622.6" y2="263.2" stroke="#808080" stroke-width="2.9"/><line x1="595.3" y1="344.3" x2="645.5" y2="375.2" stroke="#808080" stroke-width="2.9"/><line x1="549.5" y1="389" x2="598" y2="419.4" stroke="#808080" stroke-width="2.9"/><circle cx="630.2" cy="257.1" r="7.9" fill="#fff" stroke="#808080" stroke-width="3.2"/><text x="627.2" y="261.7" font-family="Liberation Sans, sans-serif" font-size="10" fill="#7f8ba0" text-anchor="middle">4</text><circle cx="653.2" cy="377.4" r="7.9" fill="#fff" stroke="#808080" stroke-width="3.2"/><text x="650.2" y="382" font-family="Liberation Sans, sans-serif" font-size="10" fill="#7f8ba0" text-anchor="middle">5</text><circle cx="606.3" cy="420.4" r="7.9" fill="#fff" stroke="#808080" stroke-width="3.2"/><text x="603.3" y="425" font-family="Liberation Sans, sans-serif" font-size="10" fill="#7f8ba0" text-anchor="middle">6</text></svg></body></html>
